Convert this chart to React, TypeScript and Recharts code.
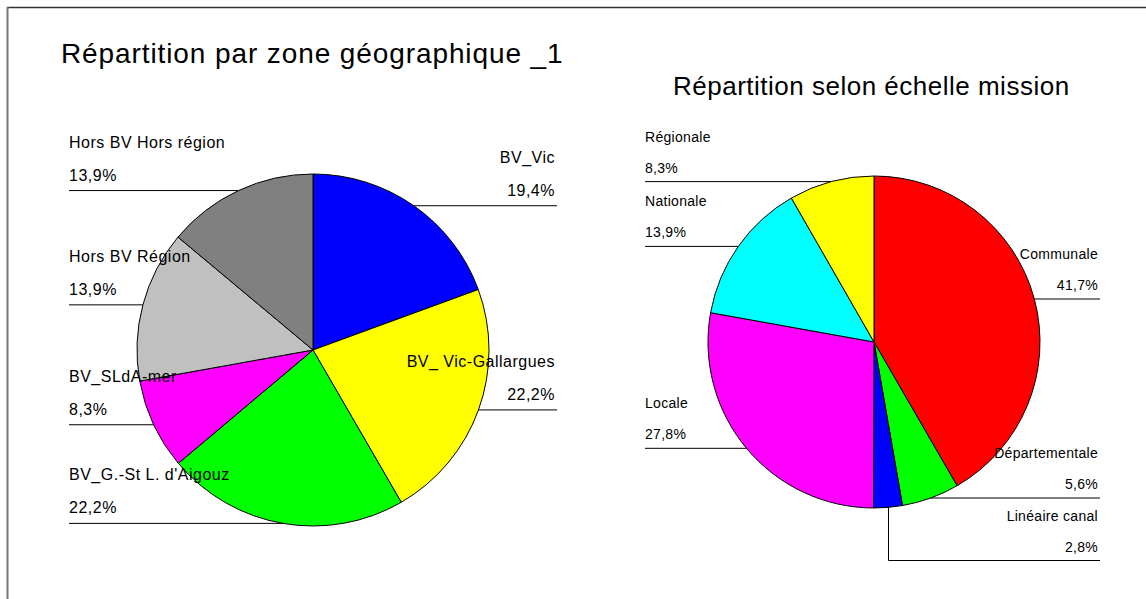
import React from "react";
import { PieChart, Pie, Cell } from "recharts";

// Répartition par zone géographique
const zoneNames = [
  "BV_Vic",
  "BV_ Vic-Gallargues",
  "BV_G.-St L. d'Aigouz",
  "BV_SLdA-mer",
  "Hors BV Région",
  "Hors BV Hors région",
];
const zoneValues = [19.4, 22.2, 22.2, 8.3, 13.9, 13.9];
const zoneColors = ["#0000ff", "#ffff00", "#00ff00", "#ff00ff", "#c0c0c0", "#808080"];

// Répartition selon échelle mission
const missionNames = [
  "Communale",
  "Départementale",
  "Linéaire canal",
  "Locale",
  "Nationale",
  "Régionale",
];
const missionValues = [41.7, 5.6, 2.8, 27.8, 13.9, 8.3];
const missionColors = ["#ff0000", "#00ff00", "#0000ff", "#ff00ff", "#00ffff", "#ffff00"];

const FONT = "'Liberation Sans', Arial, sans-serif";
const RAD = Math.PI / 180;

interface PieCfg {
  cx: number;
  cy: number;
  r: number;
  colLeft: number;
  colRight: number;
  fontSize: number;
  nameOffset: number;
  pctOffset: number;
  letterSpacing: number;
}

const zoneCfg: PieCfg = {
  cx: 313,
  cy: 350,
  r: 176,
  colLeft: 69,
  colRight: 557,
  fontSize: 16,
  nameOffset: 43,
  pctOffset: 10,
  letterSpacing: 0.5,
};

const missionCfg: PieCfg = {
  cx: 874,
  cy: 342,
  r: 166,
  colLeft: 645,
  colRight: 1100,
  fontSize: 14,
  nameOffset: 40,
  pctOffset: 9,
  letterSpacing: 0.3,
};

// where each leader line sits: at the slice's mid point, pushed down when labels collide
function leaderLevels(values: number[], cfg: PieCfg, minGap = 62) {
  const total = values.reduce((a, b) => a + b, 0);
  let acc = 0;
  const items = values.map((v, i) => {
    const start = 90 - (acc / total) * 360;
    acc += v;
    const end = 90 - (acc / total) * 360;
    const mid = (start + end) / 2;
    return { i, right: Math.cos(mid * RAD) >= 0, y: cfg.cy - cfg.r * Math.sin(mid * RAD) };
  });
  const levels: number[] = [];
  [true, false].forEach((side) => {
    const list = items.filter((it) => it.right === side).sort((a, b) => a.y - b.y);
    let prev = -Infinity;
    list.forEach((it) => {
      const y = Math.max(it.y, prev + minGap);
      levels[it.i] = y;
      prev = y;
    });
  });
  return levels;
}

function makeLabel(cfg: PieCfg, names: string[], levels: number[]) {
  return (props: any) => {
    const { cx, cy, midAngle, outerRadius, index, value } = props;
    const px = cx + outerRadius * Math.cos(-midAngle * RAD);
    const py = cy + outerRadius * Math.sin(-midAngle * RAD);
    const right = px >= cx;
    const bent = levels[index] - py > 2;
    const ly = bent ? Math.round(levels[index]) + 0.5 : py;
    const ex = right ? cfg.colRight : cfg.colLeft;
    const tx = right ? cfg.colRight - 2 : cfg.colLeft;
    const pct = `${Number(value).toFixed(1).replace(".", ",")}%`;
    const textProps = {
      x: tx,
      textAnchor: right ? "end" : "start",
      fontSize: cfg.fontSize,
      fontFamily: FONT,
      fill: "#000",
      letterSpacing: cfg.letterSpacing,
    } as const;
    const lineX = bent ? Math.round(px) + 0.5 : px;
    return (
      <g key={`lbl-${index}`}>
        <polyline
          points={`${lineX},${py} ${lineX},${ly} ${ex},${ly}`}
          fill="none"
          stroke="#000"
          strokeWidth={1}
        />
        <text {...textProps} y={ly - cfg.nameOffset}>
          {names[index]}
        </text>
        <text {...textProps} y={ly - cfg.pctOffset}>
          {pct}
        </text>
      </g>
    );
  };
}

export default function App() {
  const zoneData = zoneNames.map((name, i) => ({ name, value: zoneValues[i] }));
  const missionData = missionNames.map((name, i) => ({ name, value: missionValues[i] }));
  const zoneLevels = leaderLevels(zoneValues, zoneCfg);
  const missionLevels = leaderLevels(missionValues, missionCfg);

  return (
    <div
      style={{
        position: "absolute",
        left: 0,
        top: 0,
        width: 1146,
        height: 599,
        background: "#fff",
        overflow: "hidden",
      }}
    >
      <svg
        width={1146}
        height={599}
        style={{ position: "absolute", left: 0, top: 0 }}
      >
        <line x1={7} y1={7.5} x2={1146} y2={7.5} stroke="#333" strokeWidth={1.5} />
        <line x1={7.5} y1={7} x2={7.5} y2={599} stroke="#777" strokeWidth={2} />
        <text x={61} y={63} fontSize={28} letterSpacing={0.9} fontFamily={FONT} fill="#000">
          Répartition par zone géographique _1
        </text>
        <text x={673} y={95} fontSize={26} letterSpacing={0.5} fontFamily={FONT} fill="#000">
          Répartition selon échelle mission
        </text>
      </svg>
      <div style={{ position: "absolute", left: 0, top: 0 }}>
        <PieChart width={1146} height={599} margin={{ top: 0, right: 0, bottom: 0, left: 0 }}>
          <Pie
            data={zoneData}
            dataKey="value"
            nameKey="name"
            cx={zoneCfg.cx}
            cy={zoneCfg.cy}
            outerRadius={zoneCfg.r}
            startAngle={90}
            endAngle={-270}
            stroke="#000"
            strokeWidth={1}
            labelLine={false}
            label={makeLabel(zoneCfg, zoneNames, zoneLevels)}
            isAnimationActive={false}
          >
            {zoneData.map((d, i) => (
              <Cell key={d.name} fill={zoneColors[i]} />
            ))}
          </Pie>
          <Pie
            data={missionData}
            dataKey="value"
            nameKey="name"
            cx={missionCfg.cx}
            cy={missionCfg.cy}
            outerRadius={missionCfg.r}
            startAngle={90}
            endAngle={-270}
            stroke="#000"
            strokeWidth={1}
            labelLine={false}
            label={makeLabel(missionCfg, missionNames, missionLevels)}
            isAnimationActive={false}
          >
            {missionData.map((d, i) => (
              <Cell key={d.name} fill={missionColors[i]} />
            ))}
          </Pie>
        </PieChart>
      </div>
    </div>
  );
}
